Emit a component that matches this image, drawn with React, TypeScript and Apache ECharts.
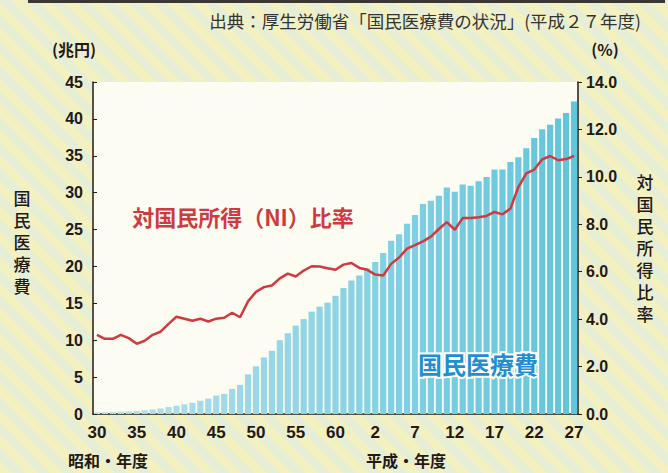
import React, { useEffect, useRef } from 'react';
import * as echarts from 'echarts';

// 年度: 昭和30〜63, 平成元〜27
const categories: string[] = [
  '30','31','32','33','34','35','36','37','38','39',
  '40','41','42','43','44','45','46','47','48','49',
  '50','51','52','53','54','55','56','57','58','59',
  '60','61','62','63','元','2','3','4','5','6',
  '7','8','9','10','11','12','13','14','15','16',
  '17','18','19','20','21','22','23','24','25','26',
  '27',
];

// 国民医療費（兆円）
const expense: number[] = [
  0.24, 0.26, 0.29, 0.32, 0.36, 0.41, 0.51, 0.61, 0.75, 0.94,
  1.12, 1.30, 1.51, 1.80, 2.08, 2.50, 2.73, 3.40, 3.95, 5.38,
  6.48, 7.67, 8.57, 10.00, 10.95, 11.98, 12.87, 13.87, 14.54, 15.09,
  16.02, 17.07, 18.08, 18.76, 19.73, 20.61, 21.83, 23.48, 24.36, 25.79,
  26.96, 28.45, 28.91, 29.58, 30.70, 30.14, 31.10, 30.95, 31.54, 32.11,
  33.13, 33.13, 34.14, 34.81, 36.01, 37.42, 38.59, 39.21, 40.06, 40.81,
  42.36,
];

// 対国民所得比率（%）
const ratio: number[] = [
  3.34, 3.17, 3.17, 3.34, 3.20, 2.96, 3.09, 3.34, 3.47, 3.80,
  4.10, 4.02, 3.93, 4.02, 3.90, 4.02, 4.06, 4.27, 4.08, 4.75,
  5.15, 5.35, 5.42, 5.72, 5.92, 5.80, 6.05, 6.23, 6.22, 6.15,
  6.08, 6.30, 6.37, 6.16, 6.08, 5.88, 5.84, 6.33, 6.60, 6.97,
  7.12, 7.28, 7.48, 7.80, 8.09, 7.77, 8.26, 8.27, 8.30, 8.35,
  8.52, 8.42, 8.66, 9.57, 10.15, 10.31, 10.74, 10.88, 10.70, 10.75,
  10.88,
];

const leftTitle = '国民医療費';
const rightTitle = '対国民所得比率';

const barStart = [182, 225, 236];
const barEnd = [96, 198, 219];

function barColor(i: number, n: number): string {
  const t = n > 1 ? i / (n - 1) : 0;
  const c = barStart.map((s, k) => Math.round(s + (barEnd[k] - s) * t));
  return `rgb(${c[0]},${c[1]},${c[2]})`;
}

const NUM_FONT = '"Liberation Sans", Arial, sans-serif';
const JP_FONT = '"Noto Sans CJK JP", sans-serif';
const DARK = '#231815';

function verticalText(text: string, x: number, yTop: number, pitch: number, size: number) {
  return text.split('').map((ch, i) => ({
    type: 'text',
    x,
    y: yTop + i * pitch,
    style: {
      text: ch,
      fontFamily: JP_FONT,
      fontSize: size,
      fontWeight: 500,
      lineHeight: size,
      fill: DARK,
      align: 'center',
      verticalAlign: 'middle',
    },
  }));
}

export default function App() {
  const ref = useRef<HTMLDivElement>(null);

  useEffect(() => {
    if (!ref.current) return;
    const chart = echarts.init(ref.current, null, { renderer: 'svg' });
    chart.setOption({
      animation: false,
      backgroundColor: 'transparent',
      grid: {
        left: 93,
        right: 90,
        top: 82,
        bottom: 59,
        show: true,
        backgroundColor: '#fdfcf2',
        borderWidth: 0,
      },
      title: [
        {
          text: '国民医療費',
          left: 413,
          top: 346,
          textStyle: {
            fontFamily: JP_FONT,
            fontWeight: 'bold',
            fontSize: 24,
            color: '#1f8ed3',
            textBorderColor: '#ffffff',
            textBorderWidth: 4,
          },
        },
      ],
      xAxis: {
        type: 'category',
        data: categories,
        boundaryGap: true,
        axisLine: { show: true, lineStyle: { color: DARK, width: 1.5 } },
        axisTick: { show: false },
        axisLabel: {
          interval: 4,
          margin: 10,
          fontFamily: NUM_FONT,
          fontWeight: 'bold',
          fontSize: 17,
          color: DARK,
        },
        splitLine: { show: false },
      },
      yAxis: [
        {
          type: 'value',
          min: 0,
          max: 45,
          interval: 5,
          position: 'left',
          axisLine: { show: true, lineStyle: { color: DARK, width: 1.5 } },
          axisTick: { show: true, inside: true, length: 4, lineStyle: { color: DARK } },
          axisLabel: {
            margin: 10,
            fontFamily: NUM_FONT,
            fontWeight: 'bold',
            fontSize: 16,
            color: DARK,
          },
          splitLine: { show: false },
        },
        {
          type: 'value',
          min: 0,
          max: 14,
          interval: 2,
          position: 'right',
          axisLine: { show: true, lineStyle: { color: DARK, width: 1.5 } },
          axisTick: { show: true, inside: false, length: 4, lineStyle: { color: DARK } },
          axisLabel: {
            margin: 8,
            fontFamily: NUM_FONT,
            fontWeight: 'bold',
            fontSize: 16,
            color: DARK,
            formatter: (v: number) => v.toFixed(1),
          },
          splitLine: { show: false },
        },
      ],
      series: [
        {
          type: 'bar',
          yAxisIndex: 0,
          barCategoryGap: '22%',
          data: expense.map((v, i) => ({
            value: v,
            itemStyle: { color: barColor(i, expense.length) },
          })),
        },
        {
          type: 'line',
          yAxisIndex: 1,
          data: ratio,
          symbol: 'none',
          lineStyle: { color: '#cf3a3e', width: 2.5 },
          z: 3,
        },
      ],
      graphic: [
        {
          type: 'rect',
          shape: { x: 28, y: 0, width: 637, height: 3 },
          style: { fill: '#3a3632' },
        },
        {
          type: 'text',
          x: 641,
          y: 20,
          style: {
            text: '出典：厚生労働省「国民医療費の状況」(平成２７年度)',
            fontFamily: JP_FONT,
            fontSize: 17.5,
            fill: '#333333',
            align: 'right',
            verticalAlign: 'middle',
          },
        },
        {
          type: 'text',
          x: 74,
          y: 49,
          style: {
            text: '(兆円)',
            fontFamily: JP_FONT,
            fontWeight: 'bold',
            fontSize: 16,
            fill: DARK,
            align: 'center',
            verticalAlign: 'middle',
          },
        },
        {
          type: 'text',
          x: 605,
          y: 49,
          style: {
            text: '(%)',
            fontFamily: JP_FONT,
            fontWeight: 'bold',
            fontSize: 16,
            fill: DARK,
            align: 'center',
            verticalAlign: 'middle',
          },
        },
        ...verticalText(leftTitle, 22, 197, 22, 17),
        ...verticalText(rightTitle, 645, 181, 22, 17),
        {
          type: 'text',
          x: 108,
          y: 460,
          style: {
            text: '昭和・年度',
            fontFamily: JP_FONT,
            fontWeight: 'bold',
            fontSize: 16,
            fill: DARK,
            align: 'center',
            verticalAlign: 'middle',
          },
        },
        {
          type: 'text',
          x: 406,
          y: 460,
          style: {
            text: '平成・年度',
            fontFamily: JP_FONT,
            fontWeight: 'bold',
            fontSize: 16,
            fill: DARK,
            align: 'center',
            verticalAlign: 'middle',
          },
        },
        {
          type: 'text',
          x: 243,
          y: 216,
          style: {
            text: '対国民所得（NI）比率',
            fontFamily: JP_FONT,
            fontWeight: 'bold',
            fontSize: 22,
            fill: '#cd3b3f',
            align: 'center',
            verticalAlign: 'middle',
          },
        },
      ],
    });
    return () => chart.dispose();
  }, []);

  return (
    <div
      ref={ref}
      style={{
        position: 'absolute',
        left: 0,
        top: 0,
        width: 668,
        height: 473,
        background:
          'repeating-linear-gradient(45deg, #f4f1c0 0px, #f4f1c0 9px, #e7eed6 9px, #e7eed6 18px)',
      }}
    />
  );
}
